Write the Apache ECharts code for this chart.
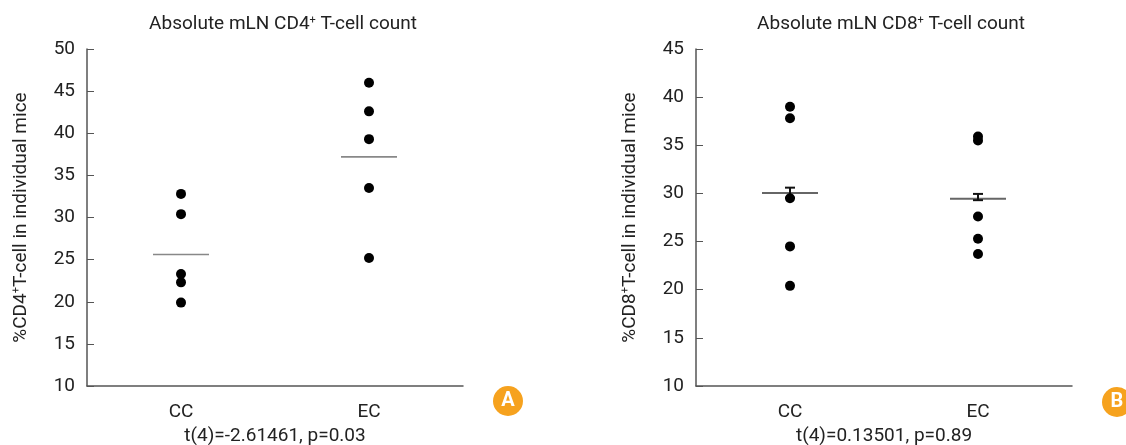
<!DOCTYPE html>
<html>
<head>
<meta charset="utf-8">
<script src="https://cdn.jsdelivr.net/npm/echarts@6/dist/echarts.min.js"></script>
<style>
  html, body { margin: 0; padding: 0; background: #fff; }
  #chart { width: 1126px; height: 445px; }
</style>
</head>
<body>
<div id="chart"></div>
<script>
// groups on the x axis
const groups = ['CC', 'EC'];

// panel A: %CD4+ T-cells
const cd4CC = [32.8, 30.4, 23.3, 22.3, 19.9];
const cd4EC = [46.0, 42.6, 39.3, 33.5, 25.2];
const cd4Mean = [25.6, 37.2];

// panel B: %CD8+ T-cells
const cd8CC = [39.0, 37.8, 29.5, 24.5, 20.4];
const cd8EC = [35.9, 35.5, 27.6, 25.3, 23.7];
const cd8Mean = [30.05, 29.45];
const cd8ErrLow = [29.55, 29.3];
const cd8ErrHigh = [30.6, 29.95];

const statsA = 't(4)=-2.61461, p=0.03';
const statsB = 't(4)=0.13501, p=0.89';

const font = 'Roboto, "Liberation Sans", sans-serif';
const axisColor = '#555';
const textColor = '#222';

const myChart = echarts.init(document.getElementById('chart'));

function points(cc, ec) {
  return cc.map(v => [0, v]).concat(ec.map(v => [1, v]));
}

// horizontal mean line, fixed pixel half-width
function meanLine(color, width) {
  return function (params, api) {
    const p = api.coord([api.value(0), api.value(1)]);
    return {
      type: 'line',
      shape: { x1: p[0] - 28, y1: p[1], x2: p[0] + 28, y2: p[1] },
      style: { stroke: color, lineWidth: width }
    };
  };
}

function errorBar(params, api) {
  const lo = api.coord([api.value(0), api.value(1)]);
  const hi = api.coord([api.value(0), api.value(2)]);
  const s = { stroke: '#111', lineWidth: 2 };
  return {
    type: 'group',
    children: [
      { type: 'line', shape: { x1: lo[0], y1: lo[1], x2: hi[0], y2: hi[1] }, style: s },
      { type: 'line', shape: { x1: hi[0] - 5, y1: hi[1], x2: hi[0] + 5, y2: hi[1] }, style: s },
      { type: 'line', shape: { x1: lo[0] - 5, y1: lo[1], x2: lo[0] + 5, y2: lo[1] }, style: s }
    ]
  };
}

function xAxisFor(gridIndex, stats) {
  return {
    type: 'category',
    gridIndex: gridIndex,
    data: groups,
    boundaryGap: true,
    axisLine: { lineStyle: { color: axisColor, width: 1.5 } },
    axisTick: { inside: true, length: 6, alignWithLabel: true, lineStyle: { color: axisColor } },
    axisLabel: { color: textColor, fontSize: 19, fontFamily: font, margin: 17 },
    name: stats,
    nameLocation: 'middle',
    nameGap: 39,
    nameTextStyle: { color: textColor, fontSize: 19, fontFamily: font }
  };
}

function yAxisFor(gridIndex, max, name) {
  return {
    type: 'value',
    gridIndex: gridIndex,
    min: 10,
    max: max,
    interval: 5,
    splitLine: { show: false },
    axisLine: { show: true, lineStyle: { color: axisColor, width: 1.5 } },
    axisTick: { show: true, inside: true, length: 7, lineStyle: { color: axisColor } },
    axisLabel: { color: textColor, fontSize: 19, fontFamily: font, margin: 12 },
    name: name,
    nameLocation: 'middle',
    nameGap: 56,
    nameTextStyle: {
      color: textColor, fontSize: 19, fontFamily: font,
      rich: { sup: { fontSize: 11, fontFamily: font, color: textColor, padding: [0, 0, 9, 0] } }
    }
  };
}

const titleStyle = {
  color: textColor, fontSize: 19, fontWeight: 'normal', fontFamily: font,
  rich: { sup: { fontSize: 11, fontFamily: font, color: textColor, padding: [0, 0, 8, 0] } }
};

myChart.setOption({
  animation: false,
  title: [
    { text: 'Absolute mLN CD4{sup|+} T-cell count', left: 278, top: 10, textAlign: 'center', textStyle: titleStyle },
    { text: 'Absolute mLN CD8{sup|+} T-cell count', left: 886, top: 10, textAlign: 'center', textStyle: titleStyle }
  ],
  grid: [
    { left: 87, top: 49, width: 376, height: 337, outerBoundsMode: 'none' },
    { left: 696, top: 49, width: 376, height: 337, outerBoundsMode: 'none' }
  ],
  xAxis: [xAxisFor(0, statsA), xAxisFor(1, statsB)],
  yAxis: [
    yAxisFor(0, 50, '%CD4{sup|+}T-cell in individual mice'),
    yAxisFor(1, 45, '%CD8{sup|+}T-cell in individual mice')
  ],
  series: [
    {
      type: 'custom', xAxisIndex: 0, yAxisIndex: 0, z: 1,
      renderItem: meanLine('#888', 1.6),
      data: cd4Mean.map((v, i) => [i, v])
    },
    {
      type: 'scatter', xAxisIndex: 0, yAxisIndex: 0, z: 3,
      symbolSize: 10, itemStyle: { color: '#000', opacity: 1 },
      data: points(cd4CC, cd4EC)
    },
    {
      type: 'custom', xAxisIndex: 1, yAxisIndex: 1, z: 1,
      renderItem: meanLine('#666', 2),
      data: cd8Mean.map((v, i) => [i, v])
    },
    {
      type: 'custom', xAxisIndex: 1, yAxisIndex: 1, z: 2,
      renderItem: errorBar,
      data: cd8ErrLow.map((v, i) => [i, v, cd8ErrHigh[i]])
    },
    {
      type: 'scatter', xAxisIndex: 1, yAxisIndex: 1, z: 3,
      symbolSize: 10, itemStyle: { color: '#000', opacity: 1 },
      data: points(cd8CC, cd8EC)
    }
  ],
  graphic: [
    { type: 'circle', shape: { cx: 508, cy: 401, r: 15 }, style: { fill: '#F6A21E' } },
    { type: 'text', x: 508, y: 401, style: { text: 'A', fill: '#fff', font: 'bold 20px ' + font, align: 'center', verticalAlign: 'middle' } },
    { type: 'circle', shape: { cx: 1117, cy: 402, r: 15 }, style: { fill: '#F6A21E' } },
    { type: 'text', x: 1117, y: 402, style: { text: 'B', fill: '#fff', font: 'bold 20px ' + font, align: 'center', verticalAlign: 'middle' } }
  ]
});
window.onresize = () => myChart.resize();
</script>
</body>
</html>
